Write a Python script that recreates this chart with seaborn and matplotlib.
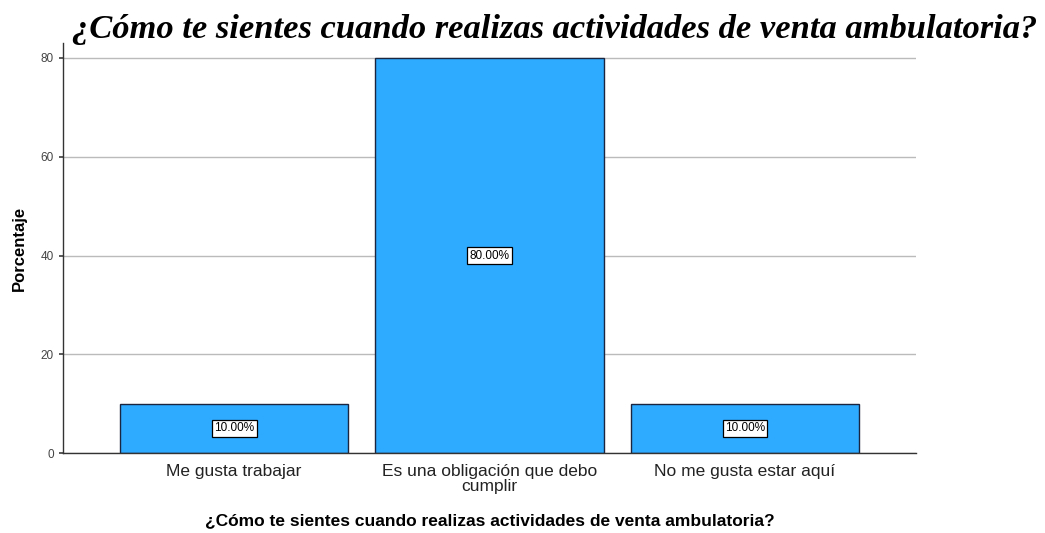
import matplotlib
matplotlib.use("Agg")
import matplotlib.pyplot as plt
import seaborn as sns
import pandas as pd

categorias = ["Me gusta trabajar", "Es una obligación que debo\ncumplir", "No me gusta estar aquí"]
porcentajes = [10.0, 80.0, 10.0]
etiquetas = ["10.00%", "80.00%", "10.00%"]
ticks_y = [0, 20, 40, 60, 80]

titulo = "¿Cómo te sientes cuando realizas actividades de venta ambulatoria?"

sns.set_theme(style="white")
plt.rcParams["font.family"] = ["Liberation Sans", "DejaVu Sans"]

df = pd.DataFrame({"categoria": categorias, "porcentaje": porcentajes})

fig = plt.figure(figsize=(10.45, 5.33), dpi=100)
ax = fig.add_axes([0.0603, 0.150, 0.8163, 0.769])

sns.barplot(data=df, x="categoria", y="porcentaje", color="#2EAAFF",
            saturation=1, width=0.895, edgecolor="#1a2540", linewidth=1.0, ax=ax)

# etiquetas dentro de las barras, en la mitad de la altura
for i, (v, txt) in enumerate(zip(porcentajes, etiquetas)):
    ax.text(i, v / 2, txt, ha="center", va="center", fontsize=8.5, color="black",
            bbox=dict(boxstyle="square,pad=0.2", facecolor="white",
                      edgecolor="black", linewidth=0.9))

ax.set_xlim(-0.67, 2.67)
ax.set_ylim(0, 83)
ax.set_yticks(ticks_y)
ax.yaxis.grid(True, color="#bbbbbb", linewidth=1.0)
ax.set_axisbelow(True)
for s in ["top", "right"]:
    ax.spines[s].set_visible(False)
for s in ["left", "bottom"]:
    ax.spines[s].set_color("#333333")
    ax.spines[s].set_linewidth(1.0)

ax.tick_params(axis="y", labelsize=8.5, colors="#444444", length=3, left=True)
ax.tick_params(axis="x", labelsize=12.5, colors="#222222", length=0, pad=8)
for lbl in ax.get_xticklabels():
    lbl.set_linespacing(1.0)

ax.set_ylabel("Porcentaje", fontsize=12, fontweight="bold", labelpad=10, color="black")
ax.set_xlabel(titulo, fontsize=12.5, fontweight="bold", labelpad=14, color="black")

fig.text(0.531, 0.929, titulo, ha="center", va="baseline", fontsize=24.8,
         fontweight="bold", fontstyle="italic", color="black",
         family=["Liberation Serif", "DejaVu Serif"])

fig.savefig("out.png", dpi=100)
